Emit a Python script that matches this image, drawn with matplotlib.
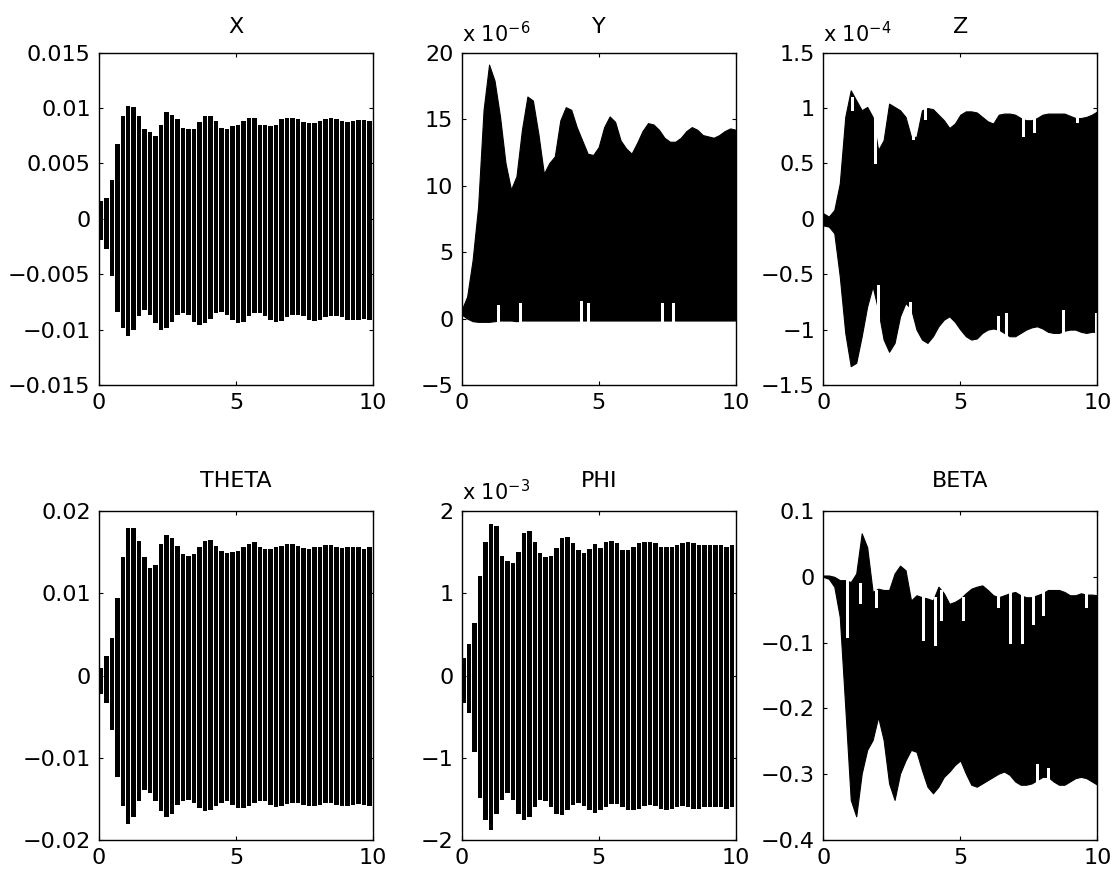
import numpy as np
import matplotlib
matplotlib.use("Agg")
from matplotlib import pyplot as plt

plt.rcParams['font.family'] = ['DejaVu Sans']
plt.rcParams['mathtext.fontset'] = 'dejavusans'
plt.rcParams['font.size'] = 16

# peak times (upper peaks / lower peaks)
t_up = np.arange(0, 10.001, 0.2)
t_dn = np.arange(0.1, 10, 0.2)
t_env = np.arange(0, 10.001, 0.2)

# X, THETA, PHI : peak values
x_hi = [0.0017, 0.0020, 0.0036, 0.0068, 0.0094, 0.0103, 0.0102, 0.0094, 0.0082, 0.0079,
        0.0076, 0.0086, 0.0097, 0.0095, 0.0091, 0.0083, 0.0082, 0.0082, 0.0088, 0.0094,
        0.0094, 0.0089, 0.0083, 0.0082, 0.0085, 0.0086, 0.0089, 0.0092, 0.0092, 0.0086,
        0.0086, 0.0085, 0.0086, 0.0091, 0.0092, 0.0092, 0.0091, 0.0088, 0.0087, 0.0087,
        0.0089, 0.0091, 0.0092, 0.0091, 0.0089, 0.0088, 0.0089, 0.0090, 0.0090, 0.0089, 0.0082]
x_lo = [-0.0019, -0.0027, -0.0052, -0.0084, -0.0099, -0.0106, -0.0100, -0.0088, -0.0082, -0.0087,
        -0.0094, -0.0100, -0.0099, -0.0093, -0.0087, -0.0085, -0.0087, -0.0093, -0.0096, -0.0094,
        -0.0090, -0.0085, -0.0084, -0.0087, -0.0091, -0.0094, -0.0093, -0.0088, -0.0085, -0.0085,
        -0.0088, -0.0091, -0.0093, -0.0092, -0.0089, -0.0087, -0.0087, -0.0088, -0.0091, -0.0092,
        -0.0091, -0.0089, -0.0088, -0.0088, -0.0089, -0.0091, -0.0091, -0.0091, -0.0090, -0.0091]

theta_hi = [0.0010, 0.0025, 0.0047, 0.0096, 0.0145, 0.0181, 0.0180, 0.0165, 0.0145, 0.0132,
            0.0136, 0.0161, 0.0172, 0.0169, 0.0159, 0.0149, 0.0147, 0.0149, 0.0157, 0.0165,
            0.0166, 0.0159, 0.0153, 0.0150, 0.0152, 0.0153, 0.0157, 0.0161, 0.0163, 0.0157,
            0.0155, 0.0155, 0.0157, 0.0159, 0.0161, 0.0161, 0.0159, 0.0156, 0.0155, 0.0157,
            0.0158, 0.0160, 0.0160, 0.0157, 0.0156, 0.0157, 0.0157, 0.0157, 0.0155, 0.0157, 0.0159]
theta_lo = [-0.0022, -0.0034, -0.0066, -0.0123, -0.0159, -0.0180, -0.0172, -0.0153, -0.0139, -0.0143,
            -0.0153, -0.0165, -0.0172, -0.0168, -0.0157, -0.0153, -0.0151, -0.0155, -0.0161, -0.0165,
            -0.0163, -0.0159, -0.0155, -0.0153, -0.0157, -0.0161, -0.0161, -0.0159, -0.0155, -0.0152,
            -0.0153, -0.0157, -0.0160, -0.0159, -0.0156, -0.0155, -0.0155, -0.0157, -0.0159, -0.0159,
            -0.0157, -0.0155, -0.0155, -0.0157, -0.0159, -0.0159, -0.0157, -0.0156, -0.0157, -0.0159]

# PHI in units of 1e-3
phi_hi = [0.23, 0.39, 0.65, 1.22, 1.64, 1.85, 1.83, 1.46, 1.40, 1.38,
          1.52, 1.74, 1.77, 1.64, 1.50, 1.45, 1.46, 1.56, 1.68, 1.70,
          1.62, 1.54, 1.50, 1.55, 1.61, 1.56, 1.64, 1.65, 1.62, 1.54,
          1.54, 1.58, 1.62, 1.64, 1.64, 1.62, 1.58, 1.57, 1.58, 1.60,
          1.62, 1.63, 1.62, 1.60, 1.60, 1.60, 1.60, 1.60, 1.57, 1.60, 1.46]
phi_lo = [-0.34, -0.46, -0.93, -1.49, -1.76, -1.88, -1.68, -1.51, -1.43, -1.51,
          -1.68, -1.76, -1.72, -1.60, -1.51, -1.53, -1.60, -1.68, -1.70, -1.64,
          -1.57, -1.55, -1.59, -1.64, -1.67, -1.64, -1.60, -1.56, -1.56, -1.60,
          -1.63, -1.64, -1.62, -1.59, -1.57, -1.59, -1.62, -1.63, -1.62, -1.60,
          -1.59, -1.60, -1.62, -1.62, -1.60, -1.60, -1.60, -1.60, -1.62, -1.60]

# Y (1e-6), Z (1e-4), BETA : envelopes of the dense band
y_hi = [0.65, 1.65, 4.4, 8.4, 15.7, 19.1, 17.9, 15.2, 11.7, 9.7,
        10.7, 14.2, 16.7, 16.4, 13.9, 10.9, 11.7, 12.2, 14.9, 15.9,
        15.7, 14.4, 13.4, 12.4, 12.3, 12.9, 14.4, 15.2, 14.8, 13.4,
        12.8, 12.4, 13.2, 14.1, 14.7, 14.6, 14.2, 13.6, 13.3, 13.3,
        13.6, 14.1, 14.4, 14.2, 13.8, 13.7, 13.6, 13.8, 14.1, 14.3, 14.2]
y_lo = [0.3, 0.0, -0.2, -0.25, -0.25, -0.25, -0.2, -0.15, -0.15, -0.15,
        -0.2, -0.15, -0.15, -0.15, -0.15, -0.15, -0.15, -0.15, -0.15, -0.15,
        -0.15, -0.15, -0.15, -0.15, -0.15, -0.15, -0.15, -0.15, -0.15, -0.15,
        -0.15, -0.15, -0.15, -0.15, -0.15, -0.15, -0.15, -0.15, -0.15, -0.15,
        -0.15, -0.15, -0.15, -0.15, -0.15, -0.15, -0.15, -0.15, -0.15, -0.15, -0.15]

z_hi = [0.05, 0.02, 0.08, 0.32, 0.92, 1.16, 1.07, 0.98, 1.01, 0.92,
        0.62, 0.71, 1.04, 1.01, 0.98, 0.92, 0.74, 0.74, 0.98, 1.00,
        0.99, 0.94, 0.89, 0.82, 0.86, 0.94, 0.97, 0.97, 0.96, 0.92,
        0.88, 0.86, 0.94, 0.95, 0.95, 0.94, 0.91, 0.89, 0.89, 0.91,
        0.94, 0.95, 0.95, 0.95, 0.95, 0.93, 0.91, 0.91, 0.92, 0.94, 0.97]
z_lo = [-0.06, -0.07, -0.13, -0.52, -1.03, -1.33, -1.30, -1.06, -0.79, -0.61,
        -0.82, -1.09, -1.20, -1.12, -0.88, -0.76, -0.81, -1.00, -1.09, -1.12,
        -1.06, -0.97, -0.91, -0.88, -0.93, -1.00, -1.06, -1.09, -1.08, -1.03,
        -1.00, -0.99, -1.00, -1.03, -1.06, -1.06, -1.03, -1.00, -0.98, -0.97,
        -0.99, -1.02, -1.03, -1.03, -1.01, -1.00, -1.00, -1.02, -1.03, -1.02, -1.02]

beta_hi = [0.002, 0.002, 0.0, -0.005, -0.005, -0.008, 0.005, 0.066, 0.045, -0.023,
           -0.018, -0.020, -0.020, 0.005, 0.017, 0.010, -0.036, -0.028, -0.031, -0.033,
           -0.036, -0.015, -0.025, -0.041, -0.038, -0.033, -0.025, -0.018, -0.015, -0.013,
           -0.020, -0.028, -0.031, -0.028, -0.025, -0.023, -0.028, -0.031, -0.031, -0.028,
           -0.025, -0.020, -0.020, -0.020, -0.023, -0.028, -0.028, -0.025, -0.027, -0.027, -0.028]
beta_lo = [0.0, -0.003, -0.015, -0.061, -0.198, -0.339, -0.364, -0.299, -0.263, -0.248,
           -0.213, -0.248, -0.314, -0.339, -0.299, -0.279, -0.263, -0.266, -0.294, -0.319,
           -0.329, -0.319, -0.304, -0.296, -0.286, -0.279, -0.299, -0.316, -0.319, -0.314,
           -0.309, -0.304, -0.299, -0.296, -0.301, -0.311, -0.316, -0.316, -0.314, -0.309,
           -0.304, -0.304, -0.311, -0.316, -0.316, -0.311, -0.306, -0.304, -0.306, -0.311, -0.316]

# white gaps in the dense bands: time, from, to
y_gap_t = [1.33, 2.12, 4.36, 4.6, 7.33, 7.7]
y_gap_a = [-0.3, -0.3, -0.3, -0.3, -0.3, -0.3]
y_gap_b = [1.0, 1.15, 1.3, 1.15, 1.15, 1.15]

z_gap_t = [1.05, 1.88, 3.27, 3.7, 7.27, 7.7, 9.27, 2.0, 3.15, 6.36, 6.67, 8.73, 9.94]
z_gap_a = [1.1, 0.9, 0.9, 1.0, 0.95, 0.95, 0.95, -1.0, -0.95, -1.05, -1.05, -1.05, -1.05]
z_gap_b = [0.98, 0.5, 0.72, 0.9, 0.75, 0.78, 0.87, -0.6, -0.75, -0.88, -0.85, -0.82, -0.85]

beta_gap_t = [0.85, 1.33, 1.94, 3.64, 4.06, 4.3, 5.1, 6.36, 6.8, 7.24, 7.67, 8.0, 9.6, 7.79, 8.2]
beta_gap_a = [0.0, -0.01, -0.02, -0.03, -0.03, -0.02, -0.03, -0.02, -0.02, -0.02, -0.025, -0.02, -0.02, -0.32, -0.32]
beta_gap_b = [-0.091, -0.04, -0.046, -0.096, -0.104, -0.066, -0.066, -0.046, -0.101, -0.101, -0.071, -0.058, -0.046, -0.284, -0.291]

titles = ['X', 'Y', 'Z', 'THETA', 'PHI', 'BETA']
ylims = [(-0.015, 0.015), (-5, 20), (-1.5, 1.5), (-0.02, 0.02), (-2, 2), (-0.4, 0.1)]
yticks = [[-0.015, -0.01, -0.005, 0, 0.005, 0.01, 0.015],
          [-5, 0, 5, 10, 15, 20],
          [-1.5, -1, -0.5, 0, 0.5, 1, 1.5],
          [-0.02, -0.01, 0, 0.01, 0.02],
          [-2, -1, 0, 1, 2],
          [-0.4, -0.3, -0.2, -0.1, 0, 0.1]]
ytick_labels = [['\u22120.015', '\u22120.01', '\u22120.005', '0', '0.005', '0.01', '0.015'],
                ['\u22125', '0', '5', '10', '15', '20'],
                ['\u22121.5', '\u22121', '\u22120.5', '0', '0.5', '1', '1.5'],
                ['\u22120.02', '\u22120.01', '0', '0.01', '0.02'],
                ['\u22122', '\u22121', '0', '1', '2'],
                ['\u22120.4', '\u22120.3', '\u22120.2', '\u22120.1', '0', '0.1']]
exponents = [None, '-6', '-4', None, '-3', None]
xticks = [0, 5, 10]
xtick_labels = ['0', '5', '10']

fig = plt.figure(figsize=(11.17, 8.82), dpi=100)
lefts = [0.0886, 0.4133, 0.7371]
boxes = [[lefts[0], 0.5635, 0.2453, 0.3768], [lefts[1], 0.5635, 0.2453, 0.3768], [lefts[2], 0.5635, 0.2453, 0.3768],
         [lefts[0], 0.0476, 0.2453, 0.3730], [lefts[1], 0.0476, 0.2453, 0.3730], [lefts[2], 0.0476, 0.2453, 0.3730]]
axes = [fig.add_axes(b) for b in boxes]


def strokes(ax, hi, lo):
    # one black stroke per cycle, from its trough to its crest
    n = len(lo)
    hi = np.asarray(hi[:n])
    lo = np.asarray(lo)
    ax.bar(t_up[:n] + 0.05, hi - lo, bottom=lo, width=0.2, color='k',
           edgecolor='white', linewidth=0.7, antialiased=False)


def band(ax, hi, lo, gt, ga, gb):
    ax.fill_between(t_env, lo, hi, color='k', lw=0.8, edgecolor='k', antialiased=False)
    ax.vlines(gt, ga, gb, color='white', lw=0.9, antialiased=False)


strokes(axes[0], x_hi, x_lo)
band(axes[1], y_hi, y_lo, y_gap_t, y_gap_a, y_gap_b)
band(axes[2], z_hi, z_lo, z_gap_t, z_gap_a, z_gap_b)
strokes(axes[3], theta_hi, theta_lo)
strokes(axes[4], phi_hi, phi_lo)
band(axes[5], beta_hi, beta_lo, beta_gap_t, beta_gap_a, beta_gap_b)

for i, ax in enumerate(axes):
    ax.set_xlim(0, 10)
    ax.set_ylim(*ylims[i])
    ax.set_xticks(xticks)
    ax.set_xticklabels(xtick_labels)
    ax.set_yticks(yticks[i])
    ax.set_yticklabels(ytick_labels[i])
    ax.tick_params(direction='in', length=3, width=0.8, top=True, right=True,
                   labelsize=16, pad=6)
    for s in ax.spines.values():
        s.set_linewidth(1.0)
    ax.set_title(titles[i], fontsize=16, pad=14 if i < 3 else 17)
    if exponents[i]:
        ax.text(0.0, 1.02, 'x 10$^{\\mathregular{' + exponents[i].replace('-', '\u2212') + '}}$',
                transform=ax.transAxes, fontsize=15, ha='left', va='bottom')

fig.savefig('out.png', dpi=100)
